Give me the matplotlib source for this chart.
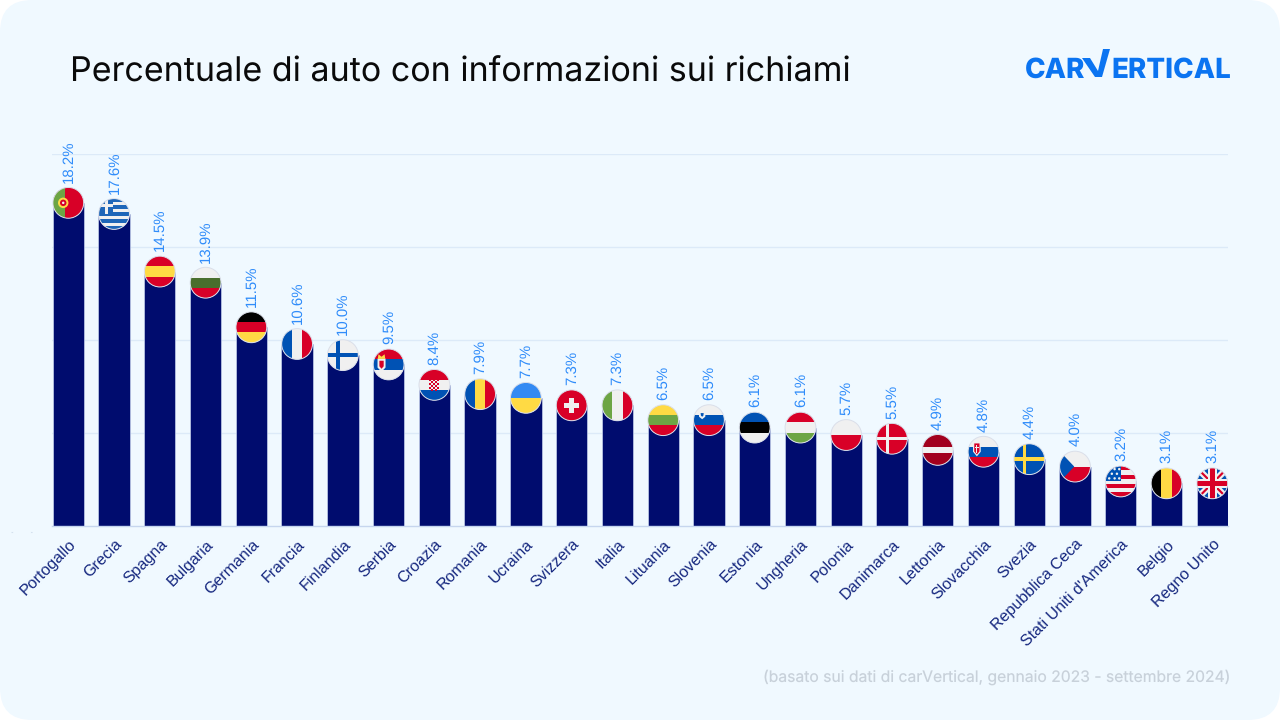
import numpy as np
import matplotlib
matplotlib.use("Agg")
import matplotlib.pyplot as plt
from matplotlib.lines import Line2D
from matplotlib.patches import Circle, FancyBboxPatch, Polygon, Rectangle
from matplotlib.transforms import Affine2D

# dati
countries = ["Portogallo", "Grecia", "Spagna", "Bulgaria", "Germania", "Francia", "Finlandia",
             "Serbia", "Croazia", "Romania", "Ucraina", "Svizzera", "Italia", "Lituania",
             "Slovenia", "Estonia", "Ungheria", "Polonia", "Danimarca", "Lettonia", "Slovacchia",
             "Svezia", "Repubblica Ceca", "Stati Uniti d'America", "Belgio", "Regno Unito"]
values = [18.2, 17.6, 14.5, 13.9, 11.5, 10.6, 10.0, 9.5, 8.4, 7.9, 7.7, 7.3, 7.3,
          6.5, 6.5, 6.1, 6.1, 5.7, 5.5, 4.9, 4.8, 4.4, 4.0, 3.2, 3.1, 3.1]
grid_values = [5, 10, 15, 20]

title = "Percentuale di auto con informazioni sui richiami"
note = "(basato sui dati di carVertical, gennaio 2023 - settembre 2024)"

BG = "#F0F9FF"
BAR = "#000C6E"
GRID = "#DCEAF8"
LABEL = "#15277F"
VALUE = "#2F8CFA"
LOGO = "#0B74F1"

RED = "#D80027"
GREEN = "#6DA544"
BLUE = "#0052B4"
YELLOW = "#FFDA44"
WHITE = "#F0F0F0"
BLACK = "#000000"

plt.rcParams["font.family"] = ["Inter", "DejaVu Sans"]
plt.rcParams["text.hinting"] = "no_hinting"
plt.rcParams["text.hinting_factor"] = 1

fig = plt.figure(figsize=(12.8, 7.2), dpi=100, facecolor="white")
# coordinate in pixel, y verso il basso
px = Affine2D().scale(1 / 1280, -1 / 720).translate(0, 1) + fig.transFigure

fig.add_artist(FancyBboxPatch((0, 0), 1280, 720, boxstyle="round,pad=0,rounding_size=32",
                              transform=px, fc=BG, ec="none", zorder=-5))

step = 45.76
x0 = 68.3
left = x0 - 0.35 * step
ax = fig.add_axes([left / 1280, (720 - 525.5) / 720, 25.7 * step / 1280, 371.5 / 720])
ax.patch.set_visible(False)
ax.set_xlim(-0.35, 25.35)
ax.set_ylim(0, 20)

# raggio della bandiera in unita' dati
rx = 15.4 / step
ry = 15.4 / (371.5 / 20)

x = np.arange(len(values))
ax.bar(x, np.array(values) - ry, width=0.685, color=BAR, edgecolor="#C4D0EC", linewidth=0.5, zorder=2)

ax.set_yticks(grid_values)
ax.set_yticklabels([])
ax.yaxis.grid(True, color=GRID, linewidth=1)
ax.set_axisbelow(True)
ax.tick_params(length=0)
for s in ["top", "left", "right"]:
    ax.spines[s].set_visible(False)
ax.spines["bottom"].set_color("#C6D6EE")
ax.spines["bottom"].set_linewidth(1)

ax.set_xticks(x)
ax.set_xticklabels(countries, rotation=45, ha="right", va="top", rotation_mode="anchor",
                   fontsize=11.3, color=LABEL, family="Liberation Sans")
ax.tick_params(axis="x", pad=8)

for xi, v in zip(x, values):
    ax.annotate(f"{v:.1f}%", (xi, v), xytext=(0.2, 3.4), textcoords="offset points",
                rotation=90, ha="center", va="bottom", fontsize=10.9, color=VALUE,
                family="Liberation Sans", annotation_clip=False)


def draw_flag(name, xc, top):
    tr = Affine2D().scale(rx, ry).translate(xc, top - ry) + ax.transData
    clip = Circle((0, 0), 1, transform=tr, fc=WHITE, ec="none", zorder=3)
    ax.add_patch(clip)

    def add(p):
        p.set_transform(tr)
        p.set_linewidth(0)
        p.set_zorder(3)
        ax.add_patch(p)
        p.set_clip_path(clip)

    def rect(u0, v0, u1, v1, c):
        add(Rectangle((u0, v0), u1 - u0, v1 - v0, fc=c))

    def poly(pts, c):
        add(Polygon(pts, closed=True, fc=c))

    def disc(u, v, r, c):
        add(Circle((u, v), r, fc=c))

    def hflag(a, b, c, w=1 / 3):
        rect(-1, w, 1, 1, a)
        rect(-1, -w, 1, w, b)
        rect(-1, -1, 1, -w, c)

    def vflag(a, b, c):
        rect(-1, -1, -1 / 3, 1, a)
        rect(-1 / 3, -1, 1 / 3, 1, b)
        rect(1 / 3, -1, 1, 1, c)

    def cross(bg, fg, w=0.11):
        rect(-1, -1, 1, 1, bg)
        rect(-1, -w, 1, w, fg)
        rect(-0.42, -1, -0.42 + 2 * w, 1, fg)

    if name == "Portogallo":
        rect(-1, -1, 1, 1, RED)
        rect(-1, -1, -0.2, 1, GREEN)
        disc(-0.33, 0, 0.34, YELLOW)
        disc(-0.33, 0, 0.21, RED)
        disc(-0.33, 0, 0.08, WHITE)
    elif name == "Grecia":
        rect(-1, -1, 1, 1, WHITE)
        for i in range(0, 9, 2):
            rect(-1, 1 - 2 * (i + 1) / 9, 1, 1 - 2 * i / 9, "#1E66B8")
        rect(-1, 1 - 2 * 5 / 9, -0.05, 1, "#1E66B8")
        rect(-1, 0.45, -0.05, 0.65, WHITE)
        rect(-0.62, 0, -0.42, 1, WHITE)
    elif name == "Spagna":
        hflag(RED, YELLOW, RED)
    elif name == "Bulgaria":
        hflag(WHITE, "#496E2D", RED)
    elif name == "Germania":
        hflag(BLACK, RED, YELLOW)
    elif name == "Francia":
        vflag(BLUE, WHITE, RED)
    elif name == "Finlandia":
        cross(WHITE, BLUE)
    elif name == "Serbia":
        hflag(RED, BLUE, WHITE)
        poly([(-0.72, 0.38), (-0.2, 0.38), (-0.2, -0.2), (-0.46, -0.48), (-0.72, -0.2)], WHITE)
        poly([(-0.6, 0.24), (-0.32, 0.24), (-0.32, -0.12), (-0.46, -0.28), (-0.6, -0.12)], RED)
        poly([(-0.7, 0.36), (-0.66, 0.66), (-0.46, 0.5), (-0.26, 0.66), (-0.22, 0.36)], YELLOW)
    elif name == "Croazia":
        hflag(RED, WHITE, BLUE)
        for i in range(5):
            for j in range(6):
                if (i + j) % 2 == 0:
                    rect(-0.33 + i * 0.132, 0.37 - (j + 1) * 0.132, -0.33 + (i + 1) * 0.132, 0.37 - j * 0.132, RED)
    elif name == "Romania":
        vflag(BLUE, YELLOW, RED)
    elif name == "Ucraina":
        rect(-1, 0, 1, 1, "#338AF3")
        rect(-1, -1, 1, 0, YELLOW)
    elif name == "Svizzera":
        rect(-1, -1, 1, 1, RED)
        rect(-0.5, -0.17, 0.5, 0.17, WHITE)
        rect(-0.17, -0.5, 0.17, 0.5, WHITE)
    elif name == "Italia":
        vflag(GREEN, WHITE, RED)
    elif name == "Lituania":
        hflag(YELLOW, GREEN, RED)
    elif name == "Slovenia":
        hflag(WHITE, BLUE, RED)
        poly([(-0.68, 0.62), (-0.2, 0.62), (-0.24, 0.22), (-0.44, 0.06), (-0.64, 0.22)], WHITE)
        poly([(-0.54, 0.46), (-0.34, 0.46), (-0.36, 0.3), (-0.44, 0.22), (-0.52, 0.3)], BLUE)
    elif name == "Estonia":
        hflag(BLUE, BLACK, WHITE)
    elif name == "Ungheria":
        hflag(RED, WHITE, GREEN)
    elif name == "Polonia":
        rect(-1, 0, 1, 1, WHITE)
        rect(-1, -1, 1, 0, RED)
    elif name == "Danimarca":
        cross(RED, WHITE, w=0.1)
    elif name == "Lettonia":
        hflag("#A2001D", WHITE, "#A2001D", w=0.2)
    elif name == "Slovacchia":
        hflag(WHITE, BLUE, RED)
        poly([(-0.68, 0.62), (-0.18, 0.62), (-0.18, 0.0), (-0.43, -0.3), (-0.68, 0.0)], WHITE)
        poly([(-0.6, 0.54), (-0.26, 0.54), (-0.26, 0.02), (-0.43, -0.18), (-0.6, 0.02)], RED)
        rect(-0.47, -0.05, -0.39, 0.45, WHITE)
        rect(-0.55, 0.22, -0.31, 0.3, WHITE)
    elif name == "Svezia":
        cross("#0052B4", YELLOW, w=0.11)
    elif name == "Repubblica Ceca":
        rect(-1, 0, 1, 1, WHITE)
        rect(-1, -1, 1, 0, RED)
        poly([(-1, 1), (-0.05, 0), (-1, -1)], BLUE)
    elif name == "Stati Uniti d'America":
        rect(-1, -1, 1, 1, WHITE)
        for i in range(0, 7, 2):
            rect(-1, 1 - 2 * (i + 1) / 7, 1, 1 - 2 * i / 7, RED)
        rect(-1, 0, 0, 1, BLUE)
        for u, v in [(-0.75, 0.2), (-0.4, 0.2), (-0.1, 0.2), (-0.58, 0.5), (-0.25, 0.5), (-0.4, 0.8), (-0.1, 0.8)]:
            disc(u, v, 0.08, WHITE)
    elif name == "Belgio":
        vflag(BLACK, YELLOW, RED)
    elif name == "Regno Unito":
        rect(-1, -1, 1, 1, BLUE)
        for sign in [1, -1]:
            poly([(-1, -1 * sign + 0.3 * sign), (-1, -1 * sign - 0.3 * sign), (1, sign - 0.3 * sign), (1, sign + 0.3 * sign)], WHITE)
        for sign in [1, -1]:
            poly([(-1, -sign + 0.1 * sign), (-1, -sign - 0.1 * sign), (1, sign - 0.1 * sign), (1, sign + 0.1 * sign)], RED)
        rect(-1, -0.3, 1, 0.3, WHITE)
        rect(-0.3, -1, 0.3, 1, WHITE)
        rect(-1, -0.16, 1, 0.16, RED)
        rect(-0.16, -1, 0.16, 1, RED)

    # bordo chiaro
    ax.add_patch(Circle((0, 0), 1, transform=tr, fc="none", ec="#DADFEA", lw=0.7, zorder=4))


for xi, name, v in zip(x, countries, values):
    draw_flag(name, xi, v)

fig.text(70, 73, title, transform=px, fontsize=24.5, color="#0A0A0A", ha="left", va="center")
fig.text(1230, 677, note, transform=px, fontsize=11.3, color="#C8D1DA", ha="right", va="center")

# logo
fig.text(1025, 77.5, "CAR", transform=px, fontsize=20, fontweight=800, color=LOGO, ha="left", va="baseline")
fig.text(1231, 77.5, "ERTICAL", transform=px, fontsize=20, fontweight=800, color=LOGO, ha="right", va="baseline")
fig.add_artist(Polygon([(1082, 58), (1090, 58), (1098, 71), (1103, 49), (1110, 49), (1102, 77), (1095, 77)],
                       closed=True, transform=px, fc=LOGO, ec="none"))

# puntini quasi invisibili a sinistra della base
fig.add_artist(Line2D([11, 39], [531.5, 531.5], transform=px, color="#D5E2EF", lw=0.8, ls=(0, (1.5, 16))))

fig.savefig("out.png", dpi=100, facecolor=fig.get_facecolor())
